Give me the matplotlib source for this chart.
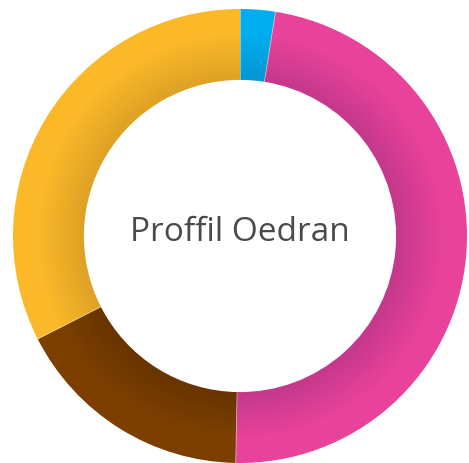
import numpy as np
import matplotlib
matplotlib.use("Agg")
import matplotlib.pyplot as plt
from matplotlib.colors import to_rgb

# data (percent of the ring, clockwise from top)
labels = ["blue", "pink", "brown", "yellow"]
values = [2.5, 47.8, 17.2, 32.5]
light_colors = ["#00AEEF", "#E8429A", "#7C3F00", "#FBB829"]
dark_colors = ["#0396D2", "#C4388A", "#683400", "#DDA124"]
title = "Proffil Oedran"

W, H = 469, 464
cx, cy, R = 240, 237, 227
r_in = 157 / R

fig = plt.figure(figsize=(W / 100, H / 100), dpi=100)
ax = fig.add_axes([0, 0, 1, 1])

# ring drawn as thin bands to fake the inner shading
nbands = 24
edges = np.linspace(1.0, r_in, nbands + 1)
for i in range(nbands):
    t = (i + 0.5) / nbands
    k = 0 if t < 0.35 else (t - 0.35) / 0.65
    cols = []
    for lc, dc in zip(light_colors, dark_colors):
        a = np.array(to_rgb(lc))
        b = np.array(to_rgb(dc))
        cols.append(tuple(a + (b - a) * k))
    ax.pie(values, colors=cols, startangle=90, counterclock=False,
           radius=edges[i], center=(0, 0), frame=True,
           wedgeprops=dict(width=edges[i] - edges[i + 1] + 0.004, linewidth=0))

# thin light separator lines between segments
ang = 90 - np.cumsum([0] + values[:-1]) / 100 * 360
for a in ang:
    rad = np.deg2rad(a)
    ax.plot([r_in * np.cos(rad), np.cos(rad)], [r_in * np.sin(rad), np.sin(rad)],
            color="white", lw=0.6, alpha=0.5)

ax.set_xlim(-cx / R, (W - cx) / R)
ax.set_ylim(-(H - cy) / R, cy / R)
ax.set_aspect("auto")
ax.axis("off")

ax.text(0, -4 / R, title, ha="center", va="baseline", fontsize=24,
        color="#4A4A4A", family="Open Sans")

fig.savefig("out.png", dpi=100)
